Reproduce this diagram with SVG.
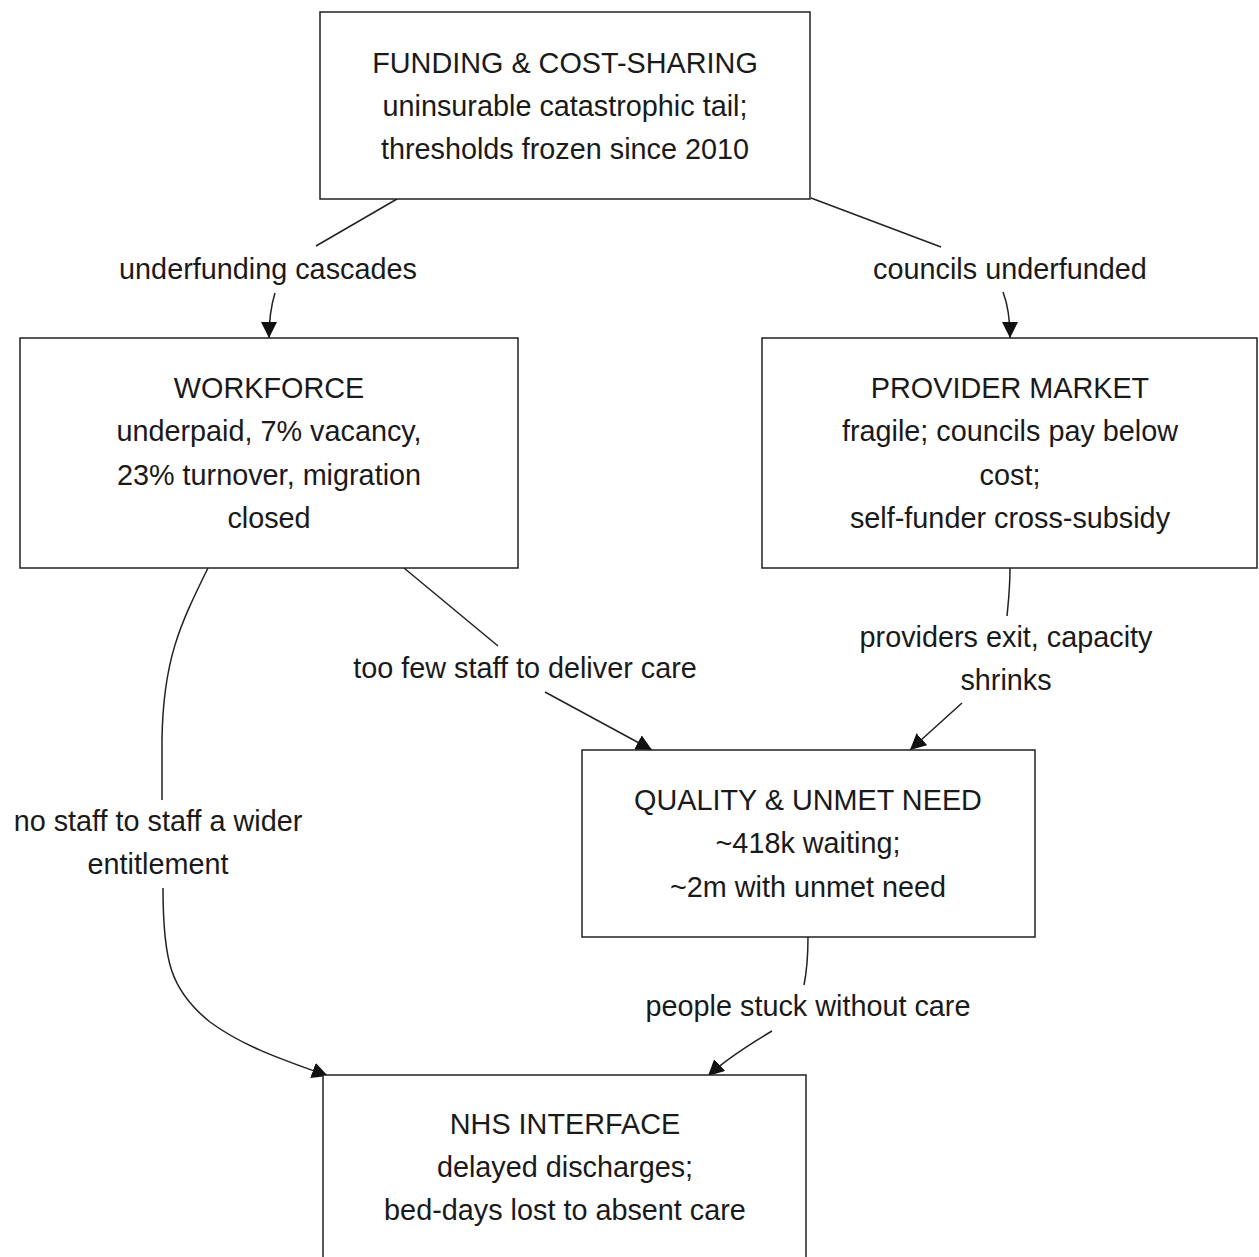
<svg xmlns="http://www.w3.org/2000/svg" width="1259" height="1257" viewBox="0 0 1259 1257">
<style>
.box{fill:#fff;stroke:#222;stroke-width:1.5}
.t{font-family:"Liberation Sans",Arial,Helvetica,sans-serif;font-size:28.8px;fill:#1a1a1a;text-anchor:middle}
.e{fill:none;stroke:#222;stroke-width:1.5}
</style>
<defs>
<marker id="ah" viewBox="0 0 10 10" refX="10" refY="5" markerWidth="16" markerHeight="16" markerUnits="userSpaceOnUse" orient="auto">
<path d="M0,0 L10,5 L0,10 z" fill="#111"/>
</marker>
</defs>
<rect width="1259" height="1257" fill="#fff"/>
<g id="connectors">
<path class="e" d="M397,199 L316,246 M275,293 C271,306 269,320 269,338" marker-end="url(#ah)"/>
<path class="e" d="M811,198 L941,247 M1003,292 C1008,305 1010,318 1010,338" marker-end="url(#ah)"/>
<path class="e" d="M404,568 L498,646 M545,692 L652,750" marker-end="url(#ah)"/>
<path class="e" d="M1010,568 C1010,590 1008,605 1007,616 M962,703 L910,750" marker-end="url(#ah)"/>
<path class="e" d="M808,937 C808,960 806,975 804,985 M772,1031 C745,1047 725,1060 708,1076" marker-end="url(#ah)"/>
<path class="e" d="M208,568 C180,625 163,660 162,740 L162,800 M163,888 C163,960 170,990 210,1022 C245,1048 290,1062 328,1076" marker-end="url(#ah)"/>
<text class="t" x="268" y="279">underfunding cascades</text>
<text class="t" x="1010" y="279">councils underfunded</text>
<text class="t" x="525" y="678">too few staff to deliver care</text>
<text class="t" x="1006" y="647">providers exit, capacity</text>
<text class="t" x="1006" y="690">shrinks</text>
<text class="t" x="158" y="831">no staff to staff a wider</text>
<text class="t" x="158" y="874">entitlement</text>
<text class="t" x="808" y="1016">people stuck without care</text>
</g>
<g id="funding">
<rect class="box" x="320" y="12" width="490" height="187"/>
<text class="t" x="565" y="73">FUNDING &amp; COST-SHARING</text>
<text class="t" x="565" y="116">uninsurable catastrophic tail;</text>
<text class="t" x="565" y="159">thresholds frozen since 2010</text>
</g>
<g id="workforce">
<rect class="box" x="20" y="338" width="498" height="230"/>
<text class="t" x="269" y="398">WORKFORCE</text>
<text class="t" x="269" y="441">underpaid, 7% vacancy,</text>
<text class="t" x="269" y="485">23% turnover, migration</text>
<text class="t" x="269" y="528">closed</text>
</g>
<g id="provider">
<rect class="box" x="762" y="338" width="495" height="230"/>
<text class="t" x="1010" y="398">PROVIDER MARKET</text>
<text class="t" x="1010" y="441">fragile; councils pay below</text>
<text class="t" x="1010" y="485">cost;</text>
<text class="t" x="1010" y="528">self-funder cross-subsidy</text>
</g>
<g id="quality">
<rect class="box" x="582" y="750" width="453" height="187"/>
<text class="t" x="808" y="810">QUALITY &amp; UNMET NEED</text>
<text class="t" x="808" y="853">~418k waiting;</text>
<text class="t" x="808" y="897">~2m with unmet need</text>
</g>
<g id="nhs">
<rect class="box" x="323" y="1075" width="483" height="186"/>
<text class="t" x="565" y="1134">NHS INTERFACE</text>
<text class="t" x="565" y="1177">delayed discharges;</text>
<text class="t" x="565" y="1220">bed-days lost to absent care</text>
</g>
</svg>
